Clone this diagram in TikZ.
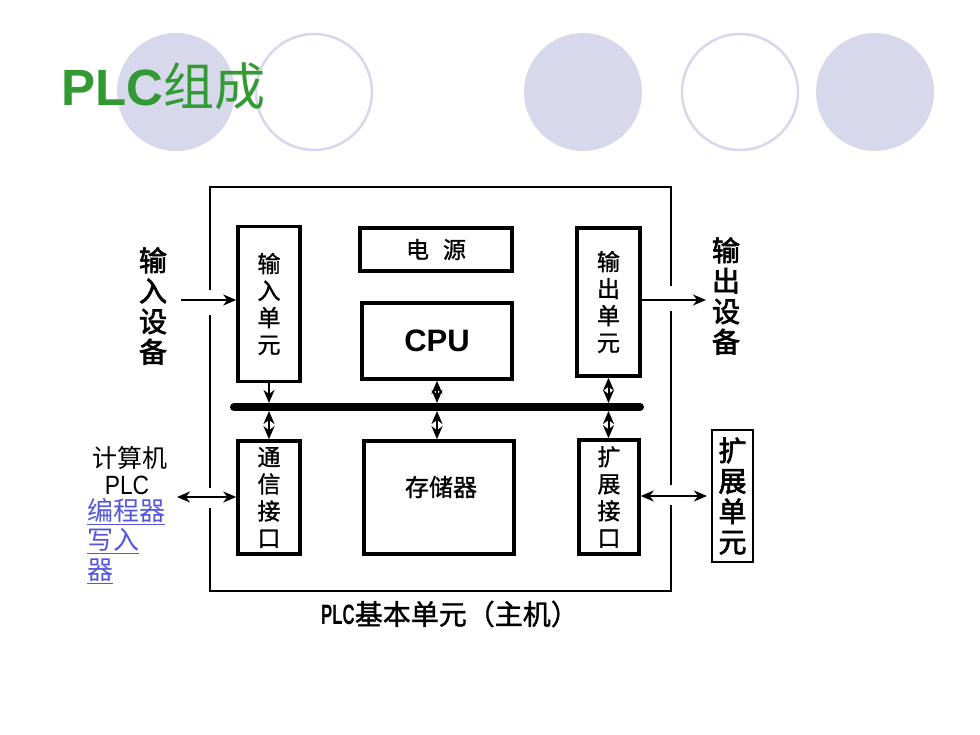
\documentclass[tikz,border=0pt]{standalone}
\usepackage{fontspec}
\setmainfont{Liberation Sans}
\newfontfamily\cjk{Noto Sans CJK SC}
\newfontfamily\cjkb{Noto Sans CJK SC}[FakeBold=1.2]
\newfontfamily\cjkbb{Noto Sans CJK SC}[FakeBold=2.5]
\usetikzlibrary{arrows.meta}
\definecolor{lav}{RGB}{216,216,236}
\definecolor{titlegreen}{RGB}{51,153,51}
\definecolor{linkblue}{RGB}{85,85,221}
\begin{document}
\begin{tikzpicture}[x=1pt,y=-1pt,
  box/.style={draw, line width=3.5pt, inner sep=0pt, align=center},
  thinbox/.style={draw, line width=1.4pt, inner sep=0pt, align=center},
  vt/.style={font=\cjkb\fontsize{23}{27}\selectfont},
  big/.style={font=\cjkbb\fontsize{28}{30.5}\selectfont, align=center, inner sep=0pt},
  arr/.style={line width=2pt, -{Stealth[length=13pt,width=11pt,inset=4pt]}},
  darr/.style={line width=2pt, {Stealth[length=13pt,width=11pt,inset=4pt]}-{Stealth[length=13pt,width=11pt,inset=4pt]}},
  frame/.style={line width=1.3pt},
  lnk/.style={text=linkblue, anchor=west, inner sep=0pt, font=\cjk\fontsize{26}{26}\selectfont}
]
\path[use as bounding box] (0,0) rectangle (980,735);
\fill[white] (0,0) rectangle (980,735);

% decorative circles
\fill[lav] (176,92) circle[radius=59pt];
\draw[lav, line width=2.5pt] (314,92) circle[radius=58pt];
\fill[lav] (583,92) circle[radius=59pt];
\draw[lav, line width=2.5pt] (740,92) circle[radius=58pt];
\fill[lav] (875,92) circle[radius=59pt];

% title
\node[anchor=base west, inner sep=0pt, text=titlegreen] (title) at (61,106)
  {\fontsize{51}{51}\selectfont{\bfseries PLC}{\cjk 组成}};

% outer frame (with gaps where the arrows cross)
\draw[frame] (210,290) -- (210,187) -- (671,187) -- (671,286);
\draw[frame] (671,311) -- (671,485);
\draw[frame] (671,505) -- (671,591) -- (210,591) -- (210,508);
\draw[frame] (210,488) -- (210,315);

% boxes
\node[box, vt, minimum width=62pt, minimum height=155pt] (inU) at (269,304) {输\\入\\单\\元};
\node[box, minimum width=152pt, minimum height=43pt, font=\cjkb\fontsize{23}{23}\selectfont] (power) at (436,249.5) {电\hspace{14pt}源};
\node[box, minimum width=150pt, minimum height=76pt, font=\fontsize{31}{31}\selectfont\bfseries] (cpu) at (437,341) {CPU};
\node[box, vt, minimum width=63pt, minimum height=148pt] (outU) at (608.5,302) {输\\出\\单\\元};
\node[box, vt, minimum width=62pt, minimum height=113pt] (comm) at (269,497.5) {通\\信\\接\\口};
\node[box, minimum width=150pt, minimum height=113pt] (mem) at (439,497.5) {};
\node[font=\cjkb\fontsize{24}{24}\selectfont, inner sep=0pt] (memt) at (441,487) {存储器};
\node[box, vt, minimum width=60pt, minimum height=114pt] (expI) at (609,497) {扩\\展\\接\\口};
\node[thinbox, big, minimum width=41pt, minimum height=132pt] (expU) at (732.5,496) {扩\\展\\单\\元};

% bus
\coordinate (busL) at (234,407);
\coordinate (busR) at (640,407);
\draw[line width=8pt, line cap=round] (busL) -- (busR);
\coordinate (busT) at (437,403);
\coordinate (busB) at (437,411);

% vertical connectors
\draw[arr] (inU.south) -- (inU.south |- busT);
\draw[darr] (comm.north |- busB) -- (comm.north);
\draw[darr] (cpu.south) -- (cpu.south |- busT);
\draw[darr] (cpu.south |- busB) -- (cpu.south |- mem.north);
\draw[darr] (outU.south) -- (outU.south |- busT);
\draw[darr] (outU.south |- busB) -- (outU.south |- expI.north);

% outside labels
\node[big] (indev) at (153,306) {输\\入\\设\\备};
\node[big] (outdev) at (726,296) {输\\出\\设\\备};

\node[inner sep=0pt, font=\cjk\fontsize{25}{25}\selectfont] (pc) at (130,458) {计算机};
\node[inner sep=0pt, font=\fontsize{24}{24}\selectfont] (plc) at (127,485) {\scalebox{0.95}[1.1]{PLC}};
\node[lnk] (prog) at (87,512) {\underline{编程器}};
\node[lnk] (wr) at (87,541) {\underline{写入}};
\node[lnk] (dev) at (87,571) {\underline{器}};

% horizontal connectors
\coordinate (inA) at (181,300);
\draw[arr] (inA) -- (inA -| inU.west);
\coordinate (outA) at (706,300);
\draw[arr] (outA -| outU.east) -- (outA);
\coordinate (commA) at (177,497);
\draw[darr] (commA) -- (commA -| comm.west);
\coordinate (expA) at (707,496);
\draw[darr] (expA -| expI.east) -- (expA);

% caption
\node[inner sep=0pt, font=\cjkb\fontsize{28}{28}\selectfont] (cap) at (450,614)
  {{\fontspec{Liberation Sans}\bfseries\scalebox{0.6}[1]{PLC}}基本单元（主机）};
\end{tikzpicture}
\end{document}
